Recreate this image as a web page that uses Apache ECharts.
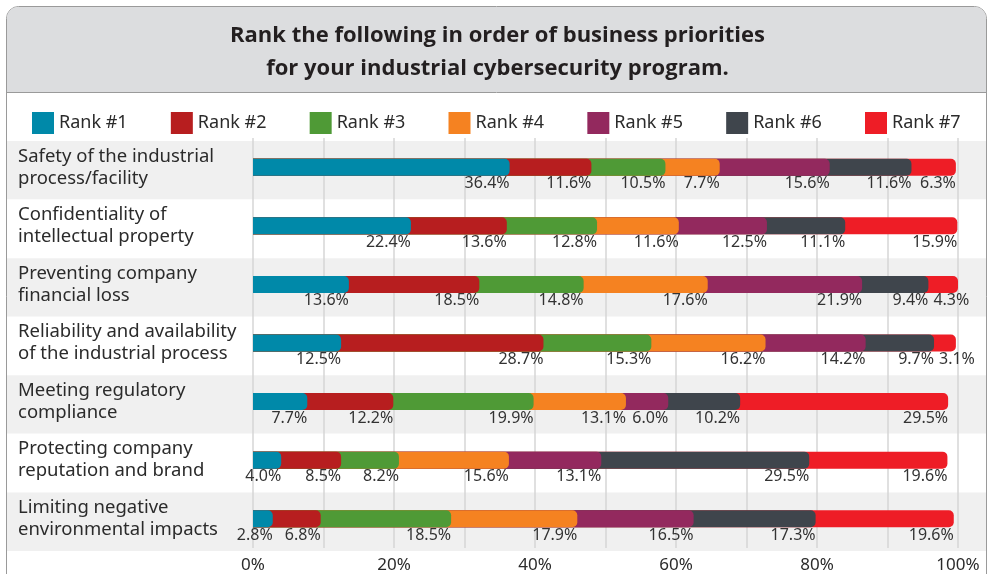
<!DOCTYPE html>
<html>
<head>
<meta charset="utf-8">
<script src="https://cdn.jsdelivr.net/npm/echarts@6/dist/echarts.min.js"></script>
<style>
  html, body { margin: 0; padding: 0; background: #ffffff; }
  #chart { width: 995px; height: 574px; }
</style>
</head>
<body>
<div id="chart"></div>
<script>
// Business priorities, top row first
const categories = [
  'Safety of the industrial\nprocess/facility',
  'Confidentiality of\nintellectual property',
  'Preventing company\nfinancial loss',
  'Reliability and availability\nof the industrial process',
  'Meeting regulatory\ncompliance',
  'Protecting company\nreputation and brand',
  'Limiting negative\nenvironmental impacts'
];

const rankNames = ['Rank #1', 'Rank #2', 'Rank #3', 'Rank #4', 'Rank #5', 'Rank #6', 'Rank #7'];

// Share of respondents (%) per rank, one value per priority
const rank1 = [36.4, 22.4, 13.6, 12.5, 7.7, 4.0, 2.8];
const rank2 = [11.6, 13.6, 18.5, 28.7, 12.2, 8.5, 6.8];
const rank3 = [10.5, 12.8, 14.8, 15.3, 19.9, 8.2, 18.5];
const rank4 = [7.7, 11.6, 17.6, 16.2, 13.1, 15.6, 17.9];
const rank5 = [15.6, 12.5, 21.9, 14.2, 6.0, 13.1, 16.5];
const rank6 = [11.6, 11.1, 9.4, 9.7, 10.2, 29.5, 17.3];
const rank7 = [6.3, 15.9, 4.3, 3.1, 29.5, 19.6, 19.6];

const axisTicks = [0, 20, 40, 60, 80, 100];

const ranks = [rank1, rank2, rank3, rank4, rank5, rank6, rank7];
const colors = ['#0089a9', '#b71e1f', '#4f9a36', '#f58221', '#93295e', '#3f454c', '#ee1d26'];

// Each rank is drawn as a bar from 0 to its running total; earlier ranks sit on top,
// so every segment's rounded end overlaps the next one.
const running = categories.map(() => 0);
const cumulative = ranks.map(vals => vals.map((v, i) => (running[i] = +(running[i] + v).toFixed(1))));

const FONT = "'Noto Sans', 'Open Sans', sans-serif";

let chart;

// Push a value label right when it would collide with the label of the previous rank
function nudge(s, i, rect) {
  if (s === 0 || !chart) return {};
  const prevEnd = chart.convertToPixel({ gridIndex: 1 }, [cumulative[s - 1][i], i])[0];
  const dx = prevEnd + 5 - rect.x;
  return dx > 0 ? { dx: dx } : {};
}

const series = ranks.map((vals, s) => ({
  name: rankNames[s],
  type: 'bar',
  xAxisIndex: 1,
  yAxisIndex: 1,
  data: cumulative[s],
  barWidth: 17,
  barGap: '-100%',
  z: 20 - s,
  itemStyle: { color: colors[s], borderRadius: [0, 5, 5, 0] },
  label: {
    show: true,
    position: ['100%', '100%'],
    align: 'right',
    verticalAlign: 'top',
    offset: [0, 2],
    color: '#333333',
    fontFamily: FONT,
    fontSize: 16,
    formatter: p => vals[p.dataIndex].toFixed(1) + '%'
  },
  labelLayout: p => nudge(s, p.dataIndex, p.labelRect)
}));

// Second grid only carries the alternating row bands across the full width
series.push({
  type: 'bar', xAxisIndex: 0, yAxisIndex: 0, data: [], silent: true
});

chart = echarts.init(document.getElementById('chart'), null, { renderer: 'canvas' });

chart.setOption({
  animation: false,
  backgroundColor: '#ffffff',
  graphic: [
    {
      type: 'rect', z: -10,
      shape: { x: 6.5, y: 6.5, width: 980, height: 600, r: 12 },
      style: { fill: '#ffffff', stroke: '#9a9a9a', lineWidth: 1 }
    },
    {
      type: 'rect', z: -9,
      shape: { x: 7, y: 7, width: 979, height: 85, r: [11, 11, 0, 0] },
      style: { fill: '#dcdddf' }
    },
    {
      type: 'line', z: -8,
      shape: { x1: 7, y1: 92.5, x2: 986, y2: 92.5 },
      style: { stroke: '#9a9a9a', lineWidth: 1 }
    }
  ],
  title: {
    text: 'Rank the following in order of business priorities\nfor your industrial cybersecurity program.',
    left: 'center',
    top: 14,
    textStyle: {
      fontFamily: "'Open Sans', sans-serif",
      fontWeight: 'bold',
      fontSize: 22,
      lineHeight: 33,
      color: '#231f20'
    }
  },
  legend: {
    top: 107,
    left: 27,
    icon: 'rect',
    itemWidth: 22,
    itemHeight: 22,
    itemGap: 43.2,
    data: rankNames,
    textStyle: {
      fontFamily: FONT,
      fontSize: 18,
      color: '#2b2b2b'
    }
  },
  grid: [
    { left: 7, right: 9, top: 141, height: 410 },
    { left: 253, right: 37, top: 138, height: 410 }
  ],
  xAxis: [
    { gridIndex: 0, type: 'value', show: false, min: 0, max: 100 },
    {
      gridIndex: 1,
      type: 'value',
      min: 0,
      max: 100,
      interval: 10,
      axisLine: { show: false },
      axisTick: { show: false },
      splitLine: { show: true, lineStyle: { color: '#d6d6d6', width: 1.5 } },
      axisLabel: {
        margin: 9,
        fontFamily: FONT,
        fontSize: 17,
        color: '#2b2b2b',
        formatter: v => axisTicks.includes(v) ? v + '%' : ''
      }
    }
  ],
  yAxis: [
    {
      gridIndex: 0,
      type: 'category',
      data: categories,
      inverse: true,
      axisLine: { show: false },
      axisTick: { show: false },
      axisLabel: { show: false },
      splitLine: { show: false },
      splitArea: { show: true, areaStyle: { color: ['#f0f0f0', '#ffffff'] } }
    },
    {
      gridIndex: 1,
      type: 'category',
      data: categories,
      inverse: true,
      axisLine: { show: false },
      axisTick: { show: false },
      axisLabel: {
        align: 'left',
        margin: 235,
        fontFamily: FONT,
        fontSize: 18.5,
        lineHeight: 22,
        color: '#2b2b2b'
      }
    }
  ],
  series: series
});
</script>
</body>
</html>
